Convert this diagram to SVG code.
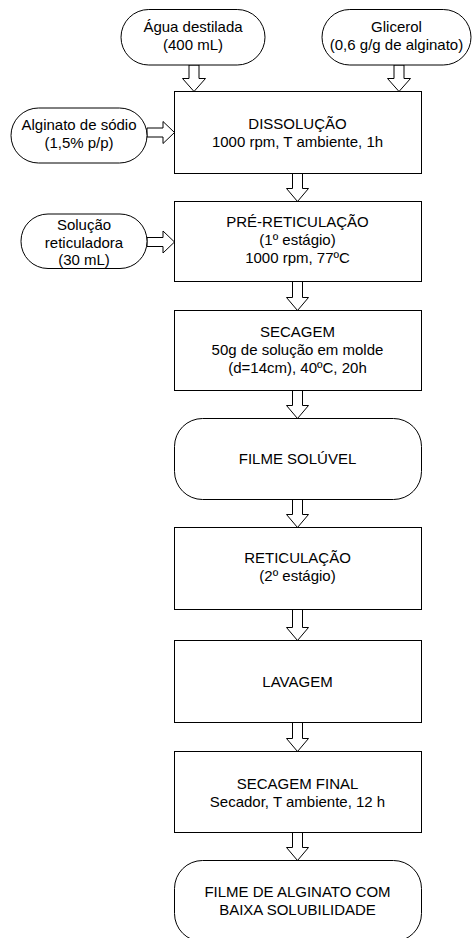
<svg xmlns="http://www.w3.org/2000/svg" width="472" height="938" viewBox="0 0 472 938">
<style>
.shape{fill:#fff;stroke:#000;stroke-width:1}
.arrow{fill:#fff;stroke:#000;stroke-width:1;stroke-linejoin:miter}
text{font-family:"Liberation Sans",Arial,sans-serif;font-size:15px;fill:#000;text-anchor:middle}
</style>
<rect width="472" height="938" fill="#fff"/>
<g id="connectors">
<path class="arrow" d="M189,65 L199,65 L199,78.5 L205.5,78.5 L194,91.5 L182.5,78.5 L189,78.5 Z"/>
<path class="arrow" d="M394,65 L404,65 L404,78.5 L410.5,78.5 L399,91.5 L387.5,78.5 L394,78.5 Z"/>
<path class="arrow" d="M147,128 L163,128 L163,121.5 L174.5,132.5 L163,143.5 L163,137 L147,137 Z"/>
<path class="arrow" d="M147,237.5 L163,237.5 L163,231 L174.5,242 L163,253 L163,246.5 L147,246.5 Z"/>
<path class="arrow" d="M292.5,173.5 L302.5,173.5 L302.5,188.5 L308.5,188.5 L297.5,201.5 L286.5,188.5 L292.5,188.5 Z"/>
<path class="arrow" d="M292.5,281.5 L302.5,281.5 L302.5,297.5 L308.5,297.5 L297.5,310.5 L286.5,297.5 L292.5,297.5 Z"/>
<path class="arrow" d="M292.5,390.5 L302.5,390.5 L302.5,405.5 L308.5,405.5 L297.5,418.5 L286.5,405.5 L292.5,405.5 Z"/>
<path class="arrow" d="M292.5,499.5 L302.5,499.5 L302.5,514.5 L308.5,514.5 L297.5,527.5 L286.5,514.5 L292.5,514.5 Z"/>
<path class="arrow" d="M292.5,609.5 L302.5,609.5 L302.5,627.5 L308.5,627.5 L297.5,640.5 L286.5,627.5 L292.5,627.5 Z"/>
<path class="arrow" d="M292.5,722.5 L302.5,722.5 L302.5,738.5 L308.5,738.5 L297.5,751.5 L286.5,738.5 L292.5,738.5 Z"/>
<path class="arrow" d="M292.5,832.5 L302.5,832.5 L302.5,847.5 L308.5,847.5 L297.5,860.5 L286.5,847.5 L292.5,847.5 Z"/>
</g>
<g id="agua">
<rect class="shape" x="121" y="9.5" width="144" height="55.5" rx="27.75"/>
<text x="193" y="32">Água destilada</text>
<text x="193" y="50">(400 mL)</text>
</g>
<g id="glicerol">
<rect class="shape" x="322" y="9.5" width="149" height="55.5" rx="27.75"/>
<text x="396.5" y="32">Glicerol</text>
<text x="396.5" y="50">(0,6 g/g de alginato)</text>
</g>
<g id="alginato">
<rect class="shape" x="11" y="108" width="136" height="55" rx="27.5"/>
<text x="79" y="130">Alginato de sódio</text>
<text x="79" y="148">(1,5% p/p)</text>
</g>
<g id="solucao">
<rect class="shape" x="21" y="214" width="126" height="54.5" rx="27"/>
<text x="84" y="230">Solução</text>
<text x="84" y="247.5">reticuladora</text>
<text x="84" y="265">(30 mL)</text>
</g>
<g id="dissolucao">
<rect class="shape" x="174.5" y="91.5" width="247" height="82"/>
<text x="297.5" y="128.5">DISSOLUÇÃO</text>
<text x="297.5" y="146.5">1000 rpm, T ambiente, 1h</text>
</g>
<g id="prereticulacao">
<rect class="shape" x="174.5" y="201.5" width="247" height="80"/>
<text x="297.5" y="227">PRÉ-RETICULAÇÃO</text>
<text x="297.5" y="245">(1º estágio)</text>
<text x="297.5" y="263">1000 rpm, 77ºC</text>
</g>
<g id="secagem">
<rect class="shape" x="174.5" y="310.5" width="247" height="80"/>
<text x="297.5" y="337">SECAGEM</text>
<text x="297.5" y="355">50g de solução em molde</text>
<text x="297.5" y="373">(d=14cm), 40ºC, 20h</text>
</g>
<g id="filme-soluvel">
<rect class="shape" x="174.5" y="418.5" width="247" height="81" rx="28"/>
<text x="297.5" y="464">FILME SOLÚVEL</text>
</g>
<g id="reticulacao">
<rect class="shape" x="174.5" y="527.5" width="247" height="82"/>
<text x="297.5" y="563">RETICULAÇÃO</text>
<text x="297.5" y="581">(2º estágio)</text>
</g>
<g id="lavagem">
<rect class="shape" x="174.5" y="640.5" width="247" height="82"/>
<text x="297.5" y="686.5">LAVAGEM</text>
</g>
<g id="secagem-final">
<rect class="shape" x="174.5" y="751.5" width="247" height="81"/>
<text x="297.5" y="788.5">SECAGEM FINAL</text>
<text x="297.5" y="806.5">Secador, T ambiente, 12 h</text>
</g>
<g id="filme-final">
<rect class="shape" x="174.5" y="860.5" width="247" height="81" rx="28"/>
<text x="297.5" y="897">FILME DE ALGINATO COM</text>
<text x="297.5" y="915">BAIXA SOLUBILIDADE</text>
</g>
</svg>
